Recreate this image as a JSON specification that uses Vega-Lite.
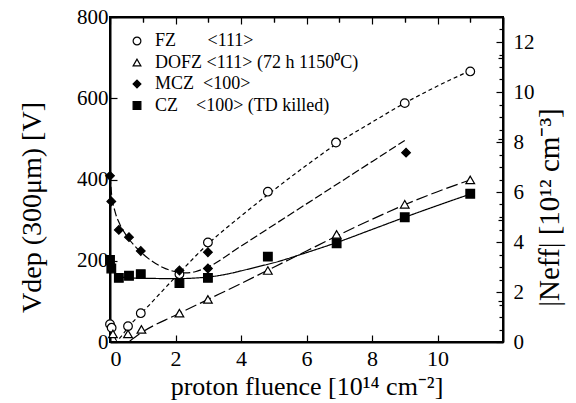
{
  "$schema": "https://vega.github.io/schema/vega-lite/v6.json",
  "autosize": "none",
  "padding": {"left": 110, "top": 17, "right": 73, "bottom": 61},
  "width": 393,
  "height": 325,
  "background": "white",
  "config": {
    "font": "Liberation Serif",
    "view": {"stroke": "black", "strokeWidth": 2},
    "axis": {
      "grid": false,
      "domainColor": "black",
      "domainWidth": 2,
      "tickColor": "black",
      "tickWidth": 1.2,
      "labelFont": "Liberation Serif",
      "labelFontSize": 22,
      "labelColor": "black",
      "titleFont": "Liberation Serif",
      "titleFontWeight": "normal",
      "titleColor": "black"
    },
    "legend": {
      "labelFont": "Liberation Serif",
      "labelFontSize": 18,
      "labelColor": "black",
      "labelLimit": 500
    }
  },
  "datasets": {
    "names": [
      {"s": "FZ", "label": "FZ\u00a0\u00a0\u00a0\u00a0\u00a0\u00a0\u00a0<111>"},
      {"s": "DOFZ", "label": "DOFZ\u00a0<111>\u00a0(72\u00a0h\u00a01150\u2070C)"},
      {"s": "MCZ", "label": "MCZ\u00a0\u00a0<100>"},
      {"s": "CZ", "label": "\u00a0CZ\u00a0\u00a0\u00a0\u00a0<100>\u00a0(TD\u00a0killed)"}
    ],
    "pts": [
      {"s": "FZ", "x": 0, "v": 44}, {"s": "FZ", "x": 0.05, "v": 35}, {"s": "FZ", "x": 0.55, "v": 39},
      {"s": "FZ", "x": 0.94, "v": 71}, {"s": "FZ", "x": 2.12, "v": 167}, {"s": "FZ", "x": 2.99, "v": 245},
      {"s": "FZ", "x": 4.82, "v": 370}, {"s": "FZ", "x": 6.9, "v": 491}, {"s": "FZ", "x": 9.0, "v": 588},
      {"s": "FZ", "x": 11.0, "v": 666},
      {"s": "DOFZ", "x": 0.09, "v": 20}, {"s": "DOFZ", "x": 0.55, "v": 20}, {"s": "DOFZ", "x": 0.96, "v": 31},
      {"s": "DOFZ", "x": 2.12, "v": 71}, {"s": "DOFZ", "x": 2.99, "v": 105}, {"s": "DOFZ", "x": 4.82, "v": 176},
      {"s": "DOFZ", "x": 6.92, "v": 265}, {"s": "DOFZ", "x": 9.0, "v": 339}, {"s": "DOFZ", "x": 11.0, "v": 399},
      {"s": "MCZ", "x": 0, "v": 409}, {"s": "MCZ", "x": 0.04, "v": 346}, {"s": "MCZ", "x": 0.27, "v": 276},
      {"s": "MCZ", "x": 0.58, "v": 258}, {"s": "MCZ", "x": 0.94, "v": 224}, {"s": "MCZ", "x": 2.12, "v": 176},
      {"s": "MCZ", "x": 2.99, "v": 221}, {"s": "MCZ", "x": 2.99, "v": 181}, {"s": "MCZ", "x": 9.04, "v": 466},
      {"s": "CZ", "x": 0, "v": 202}, {"s": "CZ", "x": 0.04, "v": 181}, {"s": "CZ", "x": 0.27, "v": 158},
      {"s": "CZ", "x": 0.58, "v": 163}, {"s": "CZ", "x": 0.94, "v": 167}, {"s": "CZ", "x": 2.12, "v": 145},
      {"s": "CZ", "x": 2.99, "v": 158}, {"s": "CZ", "x": 4.82, "v": 210}, {"s": "CZ", "x": 6.92, "v": 243},
      {"s": "CZ", "x": 9.0, "v": 307}, {"s": "CZ", "x": 11.0, "v": 365}
    ],
    "fit": [
      {"s": "FZ", "x": 0, "v": 44}, {"s": "FZ", "x": 0.1, "v": 22}, {"s": "FZ", "x": 0.2, "v": 4},
      {"s": "FZ", "x": 0.3, "v": 10}, {"s": "FZ", "x": 0.55, "v": 36}, {"s": "FZ", "x": 1, "v": 74},
      {"s": "FZ", "x": 2, "v": 160}, {"s": "FZ", "x": 3, "v": 242}, {"s": "FZ", "x": 4, "v": 310},
      {"s": "FZ", "x": 5, "v": 374}, {"s": "FZ", "x": 6, "v": 435}, {"s": "FZ", "x": 7, "v": 492},
      {"s": "FZ", "x": 8, "v": 541}, {"s": "FZ", "x": 9, "v": 588}, {"s": "FZ", "x": 10, "v": 630},
      {"s": "FZ", "x": 11, "v": 668},
      {"s": "DOFZ", "x": 0.6, "v": 2}, {"s": "DOFZ", "x": 1, "v": 25}, {"s": "DOFZ", "x": 2, "v": 66},
      {"s": "DOFZ", "x": 3, "v": 105}, {"s": "DOFZ", "x": 4, "v": 144}, {"s": "DOFZ", "x": 5, "v": 184},
      {"s": "DOFZ", "x": 6, "v": 224}, {"s": "DOFZ", "x": 7, "v": 264}, {"s": "DOFZ", "x": 8, "v": 302},
      {"s": "DOFZ", "x": 9, "v": 338}, {"s": "DOFZ", "x": 10, "v": 370}, {"s": "DOFZ", "x": 11, "v": 399},
      {"s": "MCZ", "x": 0, "v": 409}, {"s": "MCZ", "x": 0.05, "v": 362}, {"s": "MCZ", "x": 0.15, "v": 322},
      {"s": "MCZ", "x": 0.3, "v": 290}, {"s": "MCZ", "x": 0.5, "v": 262}, {"s": "MCZ", "x": 0.75, "v": 237},
      {"s": "MCZ", "x": 1, "v": 217}, {"s": "MCZ", "x": 1.3, "v": 198}, {"s": "MCZ", "x": 1.6, "v": 184},
      {"s": "MCZ", "x": 2, "v": 173}, {"s": "MCZ", "x": 2.3, "v": 170}, {"s": "MCZ", "x": 2.6, "v": 173},
      {"s": "MCZ", "x": 3, "v": 185}, {"s": "MCZ", "x": 4, "v": 236}, {"s": "MCZ", "x": 5, "v": 288},
      {"s": "MCZ", "x": 6, "v": 340}, {"s": "MCZ", "x": 7, "v": 392}, {"s": "MCZ", "x": 8, "v": 444},
      {"s": "MCZ", "x": 9, "v": 496},
      {"s": "CZ", "x": 0, "v": 200}, {"s": "CZ", "x": 0.1, "v": 178}, {"s": "CZ", "x": 0.2, "v": 166},
      {"s": "CZ", "x": 0.35, "v": 160}, {"s": "CZ", "x": 0.6, "v": 158}, {"s": "CZ", "x": 1, "v": 157},
      {"s": "CZ", "x": 2, "v": 156}, {"s": "CZ", "x": 3, "v": 160}, {"s": "CZ", "x": 3.5, "v": 166},
      {"s": "CZ", "x": 4, "v": 175}, {"s": "CZ", "x": 4.5, "v": 185}, {"s": "CZ", "x": 5, "v": 195},
      {"s": "CZ", "x": 6, "v": 220}, {"s": "CZ", "x": 7, "v": 247}, {"s": "CZ", "x": 8, "v": 277},
      {"s": "CZ", "x": 9, "v": 307}, {"s": "CZ", "x": 10, "v": 336}, {"s": "CZ", "x": 11, "v": 364}
    ]
  },
  "layer": [
    {
      "layer": [
        {
          "data": {"name": "fit"},
          "mark": {"type": "line", "color": "black", "strokeWidth": 1.2, "interpolate": "monotone"},
          "encoding": {
            "x": {"field": "x", "type": "quantitative"},
            "y": {"field": "v", "type": "quantitative"},
            "detail": {"field": "s"},
            "strokeDash": {
              "field": "s", "type": "nominal", "legend": null,
              "scale": {"domain": ["FZ", "DOFZ", "MCZ", "CZ"], "range": [[4, 3], [12, 4], [8, 3], [1, 0]]}
            }
          }
        },
        {
          "data": {"name": "pts"},
          "transform": [
            {"lookup": "s", "from": {"data": {"name": "names"}, "key": "s", "fields": ["label"]}}
          ],
          "mark": {"type": "point", "filled": false, "strokeWidth": 1.2, "opacity": 1, "size": 75},
          "encoding": {
            "x": {"field": "x", "type": "quantitative"},
            "y": {"field": "v", "type": "quantitative"},
            "shape": {
              "field": "label", "type": "nominal",
              "scale": {
                "domain": ["FZ\u00a0\u00a0\u00a0\u00a0\u00a0\u00a0\u00a0<111>", "DOFZ\u00a0<111>\u00a0(72\u00a0h\u00a01150\u2070C)", "MCZ\u00a0\u00a0<100>", "\u00a0CZ\u00a0\u00a0\u00a0\u00a0<100>\u00a0(TD\u00a0killed)"],
                "range": ["circle", "triangle-up", "diamond", "square"]
              },
              "legend": {
                "title": null, "orient": "none", "legendX": 18, "legendY": 15,
                "symbolStrokeWidth": 1.2, "symbolSize": 60,
                "rowPadding": 3.5, "labelOffset": 9, "labelLimit": 500
              }
            },
            "fill": {
              "field": "label", "type": "nominal",
              "scale": {
                "domain": ["FZ\u00a0\u00a0\u00a0\u00a0\u00a0\u00a0\u00a0<111>", "DOFZ\u00a0<111>\u00a0(72\u00a0h\u00a01150\u2070C)", "MCZ\u00a0\u00a0<100>", "\u00a0CZ\u00a0\u00a0\u00a0\u00a0<100>\u00a0(TD\u00a0killed)"],
                "range": ["white", "white", "black", "black"]
              },
              "legend": {
                "title": null, "orient": "none", "legendX": 18, "legendY": 15,
                "symbolStrokeWidth": 1.2, "symbolSize": 60,
                "rowPadding": 3.5, "labelOffset": 9, "labelLimit": 500
              }
            },
            "stroke": {
              "field": "label", "type": "nominal",
              "scale": {
                "domain": ["FZ\u00a0\u00a0\u00a0\u00a0\u00a0\u00a0\u00a0<111>", "DOFZ\u00a0<111>\u00a0(72\u00a0h\u00a01150\u2070C)", "MCZ\u00a0\u00a0<100>", "\u00a0CZ\u00a0\u00a0\u00a0\u00a0<100>\u00a0(TD\u00a0killed)"],
                "range": ["black", "black", "black", "black"]
              },
              "legend": {
                "title": null, "orient": "none", "legendX": 18, "legendY": 15,
                "symbolStrokeWidth": 1.2, "symbolSize": 60,
                "rowPadding": 3.5, "labelOffset": 9, "labelLimit": 500
              }
            }
          }
        }
      ],
      "encoding": {
        "x": {
          "field": "x", "type": "quantitative",
          "scale": {"domain": [0, 12], "nice": false},
          "axis": {
            "values": [0, 2, 4, 6, 8, 10], "tickSize": -7, "labelPadding": 13,
            "title": "proton fluence [10\u00b9\u2074 cm\u207b\u00b2]", "titleFontSize": 26, "titlePadding": 4
          }
        },
        "y": {
          "field": "v", "type": "quantitative",
          "scale": {"domain": [0, 800], "nice": false},
          "axis": {
            "values": [0, 200, 400, 600, 800], "tickSize": -7, "labelPadding": 9, "labelFontSize": 21,
            "title": "Vdep (300\u03bcm) [V]", "titleFontSize": 28, "titlePadding": 30, "titleY": 190
          }
        }
      }
    },
    {
      "mark": {"type": "point", "opacity": 0},
      "encoding": {
        "x": {
          "datum": 0, "type": "quantitative",
          "scale": {"domain": [0, 12], "nice": false},
          "axis": {"values": [1, 3, 5, 7, 9, 11], "tickSize": -5, "labels": false, "title": null, "domain": false}
        },
        "y": {
          "datum": 0, "type": "quantitative",
          "scale": {"domain": [0, 800], "nice": false},
          "axis": {"values": [100, 300, 500, 700], "tickSize": -5, "labels": false, "title": null, "domain": false}
        }
      }
    },
    {
      "mark": {"type": "point", "opacity": 0},
      "encoding": {
        "x": {
          "datum": 0, "type": "quantitative",
          "scale": {"domain": [0, 12], "nice": false},
          "axis": {"orient": "top", "values": [0, 2, 4, 6, 8, 10, 12], "tickSize": -7, "labels": false, "title": null}
        },
        "y": {
          "datum": 0, "type": "quantitative",
          "scale": {"domain": [0, 13], "nice": false},
          "axis": {
            "orient": "right", "values": [0, 2, 4, 6, 8, 10, 12], "tickSize": -7, "labelPadding": 17, "labelFontSize": 21,
            "title": "|Neff| [10\u00b9\u00b2 cm\u207b\u00b3]", "titleFontSize": 29, "titleAngle": 270, "titlePadding": 30, "titleY": 190
          }
        }
      }
    },
    {
      "mark": {"type": "point", "opacity": 0},
      "encoding": {
        "x": {
          "datum": 0, "type": "quantitative",
          "scale": {"domain": [0, 12], "nice": false},
          "axis": {"orient": "top", "values": [1, 3, 5, 7, 9, 11], "tickSize": -5, "labels": false, "title": null, "domain": false}
        },
        "y": {
          "datum": 0, "type": "quantitative",
          "scale": {"domain": [0, 13], "nice": false},
          "axis": {"orient": "right", "values": [0.5, 1, 1.5, 2.5, 3, 3.5, 4.5, 5, 5.5, 6.5, 7, 7.5, 8.5, 9, 9.5, 10.5, 11, 11.5, 12.5], "tickSize": -4, "labels": false, "title": null, "domain": false}
        }
      }
    }
  ],
  "resolve": {
    "scale": {"y": "independent"},
    "axis": {"x": "independent", "y": "independent"}
  }
}
